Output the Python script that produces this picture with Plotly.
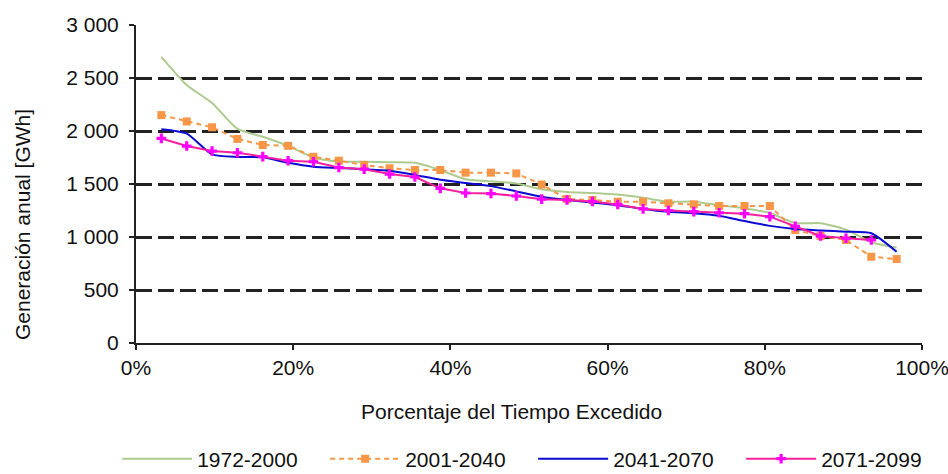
import plotly.graph_objects as go

# Exceedance positions: i/31 for i = 1..30
n_points = 30
exceed = [i / (n_points + 1) for i in range(1, n_points + 1)]

series_names = ["1972-2000", "2001-2040", "2041-2070", "2071-2099"]

gen_1972_2000 = [2700, 2434, 2264, 2020, 1946, 1860, 1750, 1712, 1710, 1705,
                 1700, 1632, 1545, 1525, 1505, 1450, 1425, 1415, 1400, 1370,
                 1333, 1333, 1300, 1272, 1226, 1132, 1130, 1070, 950, 900]

gen_2001_2040 = [2150, 2090, 2035, 1925, 1868, 1860, 1757, 1720, 1680, 1648,
                 1632, 1632, 1607, 1607, 1600, 1495, 1358, 1349, 1333, 1333,
                 1318, 1308, 1292, 1292, 1292, 1066, 1009, 972, 814, 792]

gen_2041_2070 = [2016, 1975, 1780, 1755, 1752, 1700, 1663, 1652, 1640, 1625,
                 1585, 1540, 1510, 1480, 1430, 1380, 1349, 1325, 1300, 1265,
                 1239, 1225, 1200, 1150, 1105, 1075, 1062, 1050, 1035, 860]

gen_2071_2099 = [1930, 1858, 1811, 1795, 1758, 1720, 1710, 1655, 1640, 1594,
                 1566, 1459, 1415, 1410, 1387, 1357, 1349, 1335, 1306, 1265,
                 1250, 1239, 1229, 1220, 1192, 1100, 1009, 988, 972]

y_ticks = [0, 500, 1000, 1500, 2000, 2500, 3000]
x_ticks = [0, 0.2, 0.4, 0.6, 0.8, 1.0]

FONT = "Liberation Sans, Arial, sans-serif"
FS = 21

fig = go.Figure()

fig.add_trace(go.Scatter(
    x=exceed, y=gen_1972_2000, name=series_names[0], mode="lines",
    line=dict(color="#AECB8E", width=2, shape="spline", smoothing=0.6)))

fig.add_trace(go.Scatter(
    x=exceed, y=gen_2001_2040, name=series_names[1], mode="lines+markers",
    line=dict(color="#F79646", width=2, dash="5px,4px"),
    marker=dict(symbol="square", size=8, color="#F79646")))

fig.add_trace(go.Scatter(
    x=exceed, y=gen_2041_2070, name=series_names[2], mode="lines",
    line=dict(color="#0A0AD2", width=2, shape="spline", smoothing=0.6)))

fig.add_trace(go.Scatter(
    x=exceed[:len(gen_2071_2099)], y=gen_2071_2099, name=series_names[3],
    mode="lines+markers",
    line=dict(color="#F5209E", width=2),
    marker=dict(symbol="cross", size=8, color="#FF00FF")))

fig.update_layout(
    width=948, height=474,
    margin=dict(l=136, r=26, t=25, b=131, autoexpand=False),
    paper_bgcolor="white", plot_bgcolor="white",
    font=dict(family=FONT, size=FS, color="#111"),
    separators=", ",
    showlegend=True,
    legend=dict(orientation="h", x=-0.024, xanchor="left", y=-0.365, yanchor="middle",
                font=dict(family=FONT, size=FS, color="#111"),
                entrywidth=123, entrywidthmode="pixels",
                itemwidth=70, bgcolor="rgba(0,0,0,0)"),
    xaxis=dict(range=[0, 1], tickvals=x_ticks, tickformat=".0%",
               showgrid=False, zeroline=False,
               showline=True, linecolor="#222", linewidth=2,
               ticks="outside", ticklen=5, tickwidth=2, tickcolor="#222",
               ticklabelstandoff=0, ticklabeloverflow="allow",
               tickfont=dict(family=FONT, size=FS, color="#111")),
    yaxis=dict(range=[0, 3000], tickvals=y_ticks, tickformat=",d",
               showgrid=True, gridcolor="#222", gridwidth=2.5, griddash="16px,6px",
               zeroline=False,
               showline=True, linecolor="#222", linewidth=2,
               ticks="outside", ticklen=5, tickwidth=2, tickcolor="#222",
               ticklabelstandoff=6,
               tickfont=dict(family=FONT, size=FS, color="#111")),
    annotations=[
        dict(text="Porcentaje del Tiempo Excedido", xref="paper", yref="paper",
             x=0.478, y=-0.214, xanchor="center", yanchor="middle", showarrow=False,
             font=dict(family=FONT, size=FS, color="#111")),
        dict(text="Generación anual [GWh]", xref="paper", yref="paper",
             x=-0.145, y=0.371, xanchor="center", yanchor="middle", showarrow=False,
             textangle=-90, font=dict(family=FONT, size=FS, color="#111")),
    ],
)

fig.write_html("out.html", config={"displayModeBar": False})
